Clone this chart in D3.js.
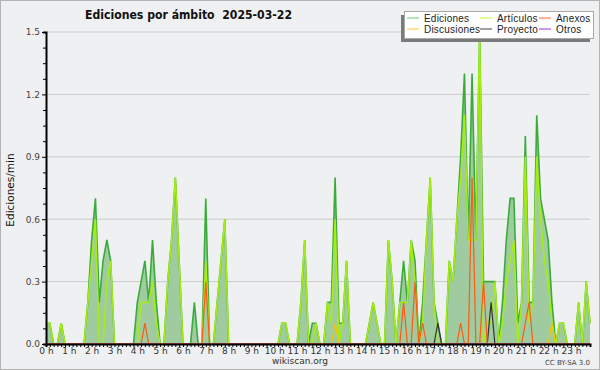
<!DOCTYPE html>
<html>
<head>
<meta charset="utf-8">
<script src="https://cdn.jsdelivr.net/npm/d3@7"></script>
<style>
  body { margin: 0; background: #fff; }
  svg { display: block; }
  text { font-family: "DejaVu Sans", sans-serif; }
</style>
</head>
<body>
<div class="chart-box"></div>
<script>
// ediciones por minuto, una cifra cada 10 minutos (6 por hora, 0 h .. 23 h)
var ediciones = [
  0.1,0.1,0,0,0.1,0,   0,0,0,0,0,0.2,   0.5,0.7,0.2,0.4,0.5,0.4,   0,0,0,0,0,0,
  0.2,0.3,0.4,0.2,0.5,0.2,   0,0,0.3,0.5,0.8,0.4,   0,0,0,0.2,0,0,   0.7,0,0,0.2,0.4,0.6,
  0,0,0,0,0,0,   0,0,0,0,0,0,   0,0,0.1,0.1,0,0,   0,0.2,0.5,0,0.1,0.1,
  0,0,0.2,0.2,0.8,0.1,   0.1,0.4,0,0,0,0,   0,0.1,0.2,0.1,0,0,   0.5,0.3,0,0.2,0.4,0.2,
  0.5,0.4,0,0.2,0.5,0.8,   0.2,0.1,0,0,0.4,0.3,   0.6,0.9,1.3,0.5,1.3,0.5,   1.5,0.3,0.3,0.3,0.3,0,
  0.2,0.5,0.7,0.7,0.1,0.2,   1.0,0.2,0.2,1.1,0.7,0.6,   0.5,0.2,0,0.1,0.1,0,   0,0,0.2,0,0.3,0.1
]
var articulos = [
  0.1,0.1,0,0,0.1,0,   0,0,0,0,0,0.2,   0.4,0.6,0,0,0.3,0.4,   0,0,0,0,0,0,
  0,0.2,0.2,0.2,0.3,0.1,   0,0,0.3,0.5,0.8,0.4,   0,0,0,0,0,0,   0.4,0,0,0.2,0.4,0.6,
  0,0,0,0,0,0,   0,0,0,0,0,0,   0,0,0.1,0.1,0,0,   0,0.2,0.5,0,0,0.1,
  0,0,0.2,0.1,0.6,0,   0.1,0.4,0,0,0,0,   0,0.1,0.2,0.1,0,0,   0.5,0.3,0,0.2,0.2,0.2,
  0.5,0.3,0,0.1,0.5,0.8,   0.2,0,0,0,0.4,0.3,   0.6,0.8,1.1,0.5,0.5,0.5,   1.5,0,0.1,0.1,0.3,0,
  0.1,0.3,0.4,0.5,0,0.2,   0.9,0.1,0.2,0.9,0.6,0.4,   0.3,0.1,0,0.1,0.1,0,   0,0,0.2,0,0.3,0.1
]
// series casi vacias: solo los puntos distintos de cero
var anexos = [[26,0.1],[42,0.3],[94,0.2],[97,0.3],[99,0.1],[109,0.1],[112,0.8],[115,0.3],[126,0.1],[127,0.2]]
var discusiones = [[76,0.1],[133,0.1]]
var proyecto = [[103,0.1],[117,0.2]]
var otros = []

var yTicks = [0, 0.3, 0.6, 0.9, 1.2, 1.5]
var hourLabels = d3.range(24).map(function(h) { return h + ' h' })

var legendItems = [
  {name: 'Ediciones', color: '#6c6'}, {name: 'Artículos', color: '#bf3'}, {name: 'Anexos', color: '#f63'},
  {name: 'Discusiones', color: '#fc3'}, {name: 'Proyecto', color: '#444'}, {name: 'Otros', color: '#93e'}
]

// turn sparse pairs into a full 144 list
function expand(pairs) {
  var out = d3.range(144).map(function() { return 0 })
  pairs.forEach(function(p) { out[p[0]] = p[1] })
  return out
}

var width = 600, height = 370

var svg = d3.select('div.chart-box').append('svg')
    .attr('width', width)
    .attr('height', height)

svg.append('rect')
    .attr('x', 0.5).attr('y', 0.5)
    .attr('width', width - 1).attr('height', height - 1)
    .style('fill', '#eff0f1')
    .style('stroke', '#b4b4b4')

var x = d3.scaleLinear().domain([0, 143]).range([46, 590])
var y = d3.scaleLinear().domain([0, 1.5]).range([344, 32])

// grid
svg.append('g').selectAll('line')
    .data(yTicks.slice(1))
    .enter().append('line')
    .attr('x1', 46).attr('x2', 590)
    .attr('y1', function(d) { return y(d) }).attr('y2', function(d) { return y(d) })
    .style('stroke', '#cbcbcb')
    .style('stroke-width', 1)

var area = d3.area()
    .x(function(d, i) { return x(i) })
    .y0(y(0))
    .y1(function(d) { return y(d) })

var line = d3.line()
    .x(function(d, i) { return x(i) })
    .y(function(d) { return y(d) })

svg.append('path')
    .datum(ediciones)
    .attr('d', area)
    .style('fill', '#a0cba0')

svg.append('path')
    .datum(ediciones)
    .attr('d', line)
    .style('fill', 'none')
    .style('stroke', '#3aac3a')
    .style('stroke-width', 1.6)

svg.append('path')
    .datum(articulos)
    .attr('d', line)
    .style('fill', 'none')
    .style('stroke', '#a6ee10')
    .style('stroke-width', 1.5)

var others = [
  {data: expand(discusiones), color: '#f5c400'},
  {data: expand(proyecto), color: '#333'},
  {data: expand(otros), color: '#93e'},
  {data: expand(anexos), color: '#ff5a10'}
]
others.forEach(function(s) {
  svg.append('path')
      .datum(s.data)
      .attr('d', line)
      .style('fill', 'none')
      .style('stroke', s.color)
      .style('stroke-width', 1.2)
})

// y axis, minor ticks every 0.075
var yAxis = svg.append('g')
    .attr('transform', 'translate(46,0)')
    .call(d3.axisLeft(y)
        .tickValues(d3.range(0, 1.5001, 0.075))
        .tickSize(3)
        .tickFormat(function(d) {
          var k = Math.round(d / 0.075)
          return k % 4 == 0 ? d.toFixed(1) : ''
        }))
yAxis.select('.domain').style('stroke', '#000').style('stroke-width', 2)
yAxis.selectAll('.tick line').style('stroke', '#000')
    .attr('x2', function(d) { return Math.round(d / 0.075) % 4 == 0 ? -4 : -3 })
yAxis.selectAll('.tick text')
    .attr('x', -6)
    .style('font-size', '9px')
    .style('fill', '#444')

// x axis, a tick every 10 minutes
var xAxis = svg.append('g')
    .attr('transform', 'translate(0,344)')
    .call(d3.axisBottom(x)
        .tickValues(d3.range(0, 144))
        .tickSize(3)
        .tickFormat(function(d) { return d % 6 == 0 ? hourLabels[d / 6] : '' }))
xAxis.select('.domain').style('stroke', '#000').style('stroke-width', 2)
xAxis.selectAll('.tick line').style('stroke', '#000')
xAxis.selectAll('.tick text')
    .attr('y', 4)
    .style('font-size', '9px')
    .style('fill', '#333')

// title (two spaces before the date)
svg.append('text')
    .attr('x', 85).attr('y', 19)
    .attr('textLength', 207)
    .attr('lengthAdjust', 'spacingAndGlyphs')
    .style('white-space', 'pre')
    .style('font-size', '12.5px')
    .style('font-weight', 'bold')
    .style('fill', '#111')
    .text('Ediciones por ámbito  2025-03-22')

svg.append('text')
    .attr('transform', 'translate(14,190) rotate(-90)')
    .attr('text-anchor', 'middle')
    .style('font-size', '10.5px')
    .style('fill', '#111')
    .text('Ediciones/min')

svg.append('text')
    .attr('x', 300).attr('y', 364)
    .attr('text-anchor', 'middle')
    .style('font-size', '9px')
    .style('fill', '#333')
    .text('wikiscan.org')

svg.append('text')
    .attr('x', 590).attr('y', 365)
    .attr('text-anchor', 'end')
    .style('font-size', '7px')
    .style('fill', '#444')
    .text('CC BY-SA 3.0')

// legend with a shadow down-left
var legend = svg.append('g')
legend.append('rect')
    .attr('x', 401).attr('y', 15)
    .attr('width', 189).attr('height', 27)
    .style('fill', '#7a7a7a')
legend.append('rect')
    .attr('x', 404.5).attr('y', 11.5)
    .attr('width', 189).attr('height', 27)
    .style('fill', '#fff')
    .style('stroke', '#a8a8a8')

var colX = [407, 480, 539]
var rowY = [18, 29]
var item = legend.selectAll('.legenditem')
    .data(legendItems)
    .enter().append('g')
    .attr('class', 'legenditem')
    .attr('transform', function(d, i) {
      return 'translate(' + colX[i % 3] + ',' + rowY[Math.floor(i / 3)] + ')'
    })
item.append('line')
    .attr('x1', 0).attr('x2', 12)
    .style('stroke', function(d) { return d.color })
    .style('stroke-width', 1)
item.append('text')
    .attr('x', 17).attr('y', 4)
    .style('font-family', '"Liberation Sans", sans-serif')
    .style('font-size', '10px')
    .style('letter-spacing', '0.2px')
    .style('fill', '#222')
    .text(function(d) { return d.name })
</script>
</body>
</html>
